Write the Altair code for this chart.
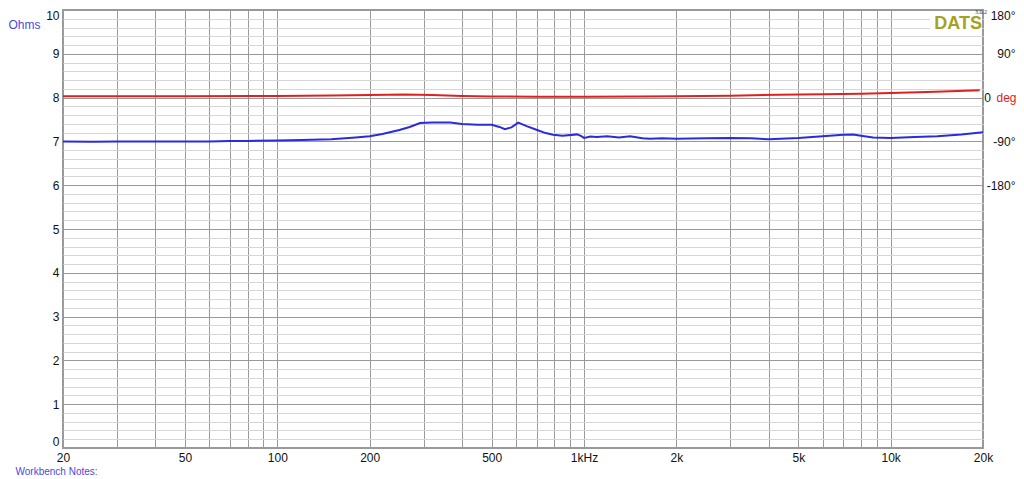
import altair as alt
import pandas as pd

# ---- data ----
imp_freq = [20, 25, 30, 40, 50, 60, 70, 80, 100, 120, 150, 180, 200, 220, 250, 270, 292, 320, 366,
            400, 450, 500, 530, 552, 580, 610, 650, 703, 750, 793, 850, 949, 980, 1000, 1050, 1100,
            1189, 1300, 1413, 1550, 1641, 1800, 2000, 2500, 3000, 3500, 4000, 5000, 6000, 7000,
            7540, 8000, 8760, 10000, 12000, 14200, 17000, 20000]
imp_ohm = [7.00, 6.99, 7.00, 7.00, 7.00, 7.00, 7.01, 7.01, 7.02, 7.03, 7.05, 7.09, 7.12, 7.17, 7.26,
           7.33, 7.42, 7.43, 7.43, 7.40, 7.38, 7.38, 7.33, 7.28, 7.32, 7.43, 7.35, 7.26, 7.19, 7.15,
           7.13, 7.16, 7.12, 7.08, 7.11, 7.10, 7.12, 7.09, 7.12, 7.07, 7.06, 7.07, 7.06, 7.07, 7.08,
           7.07, 7.05, 7.08, 7.12, 7.15, 7.16, 7.13, 7.09, 7.08, 7.10, 7.12, 7.16, 7.21]

ph_freq = [20, 50, 100, 150, 200, 260, 320, 400, 500, 700, 1000, 1500, 2000, 3000, 4300, 6000,
           8000, 10000, 14000, 19500]
ph_deg = [3, 3, 3.5, 4.5, 5.5, 6.5, 5.5, 3.5, 2.5, 1.5, 1.8, 2.2, 3, 4, 6, 7, 8, 9.5, 12, 15]

x_grid = [20, 30, 40, 50, 60, 70, 80, 90, 100, 200, 300, 400, 500, 600, 700, 800, 900,
          1000, 2000, 3000, 4000, 5000, 6000, 7000, 8000, 9000, 10000, 20000]
x_labels = {20: "20", 50: "50", 100: "100", 200: "200", 500: "500", 1000: "1kHz",
            2000: "2k", 5000: "5k", 10000: "10k", 20000: "20k"}
ohm_ticks = [round(i * 0.2, 1) for i in range(51)]
phase_ticks = [180, 90, 0, -90, -180]

W, H = 920, 438
FONT = "Liberation Sans"

imp_df = pd.DataFrame({"f": imp_freq, "ohm": imp_ohm})
ph_df = pd.DataFrame({"f": ph_freq, "deg": ph_deg})
one = pd.DataFrame({"a": [0]})

x_expr = "".join(f"datum.value == {k} ? '{v}' : " for k, v in x_labels.items()) + "''"

x_enc = alt.X(
    "f:Q",
    scale=alt.Scale(type="log", domain=[20, 20000], nice=False),
    axis=alt.Axis(
        values=x_grid, labelExpr=x_expr, grid=True, gridColor="#9a9a9a", gridWidth=1,
        ticks=False, domain=False, labelPadding=4, labelFontSize=12, labelColor="#111",
        labelOverlap=False, labelFlush=False,
        title="Workbench Notes:", titleColor="#4a4ae0", titleFontSize=10,
        titleFontWeight="normal", titleX=-48, titleY=26, titleAlign="left",
        titleBaseline="alphabetic",
    ),
)

imp = alt.Chart(imp_df).mark_line(color="#2b2bdc", strokeWidth=2).encode(
    x=x_enc,
    y=alt.Y(
        "ohm:Q",
        scale=alt.Scale(domain=[0, 10], nice=False, zero=False),
        axis=alt.Axis(
            values=ohm_ticks,
            labelExpr="datum.value % 1 === 0 ? '' + datum.value : ''",
            grid=True,
            gridColor={"condition": {"test": "datum.value % 1 === 0", "value": "#999999"},
                       "value": "#d6d6d6"},
            gridWidth=1,
            ticks=False, domain=False, labelFlush=True, labelPadding=4,
            labelFontSize=12, labelColor="#111", labelOverlap=False,
            title="Ohms", titleAngle=0, titleX=-55, titleY=14, titleAlign="left",
            titleBaseline="middle", titleColor="#4a4ae0", titleFontSize=12,
            titleFontWeight="normal",
        ),
    ),
)

phase = alt.Chart(ph_df).mark_line(color="#e02020", strokeWidth=2).encode(
    x=x_enc,
    y=alt.Y(
        "deg:Q",
        scale=alt.Scale(domain=[-720, 180], nice=False, zero=False),
        axis=alt.Axis(
            orient="right", values=phase_ticks,
            labelExpr="datum.value === 0 ? '' : datum.value + '°'",
            grid=False, ticks=False, tickSize=0, domain=False, labelAlign="right",
            labelPadding=32, labelFlush=True, labelFontSize=12, labelColor="#111",
            labelOverlap=False,
            title="deg", titleAngle=0, titleX=13, titleY=87.6, titleAlign="left",
            titleBaseline="middle", titleColor="#e02020", titleFontSize=12,
            titleFontWeight="normal",
        ),
    ),
)

zero_lbl = alt.Chart(one).mark_text(
    text="0", font=FONT, fontSize=12, color="#111", align="right", baseline="middle"
).encode(x=alt.value(928), y=alt.value(87.6))

box = alt.Chart(one).mark_rect(color="white").encode(
    x=alt.value(867), x2=alt.value(919), y=alt.value(1), y2=alt.value(23)
)
dats = alt.Chart(one).mark_text(
    text="DATS", font=FONT, fontWeight="bold", fontSize=18, color="#a3a321",
    align="right", baseline="alphabetic"
).encode(x=alt.value(919), y=alt.value(19))
ver = alt.Chart(one).mark_text(
    text="3.0.2", font="Liberation Serif", fontSize=6, color="#333",
    align="center", baseline="top"
).encode(x=alt.value(918), y=alt.value(-1))

chart = (
    alt.layer(imp, phase, box, dats, ver, zero_lbl)
    .resolve_scale(y="independent")
    .properties(
        width=W, height=H,
        autosize=alt.AutoSizeParams(type="none"),
        padding={"left": 55, "top": 2, "right": 33, "bottom": 28},
        background="white",
    )
    .configure_view(stroke="#999999", strokeWidth=2)
    .configure_axis(labelFont=FONT, titleFont=FONT)
)

chart.save("out.html", embed_options={"renderer": "svg", "actions": False})
